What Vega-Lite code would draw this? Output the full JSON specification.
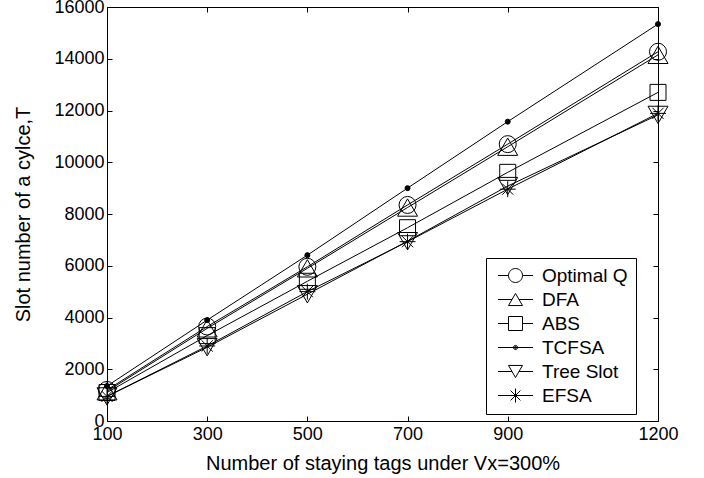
{
  "$schema": "https://vega.github.io/schema/vega-lite/v6.json",
  "width": 551,
  "height": 414,
  "autosize": {"type": "none"},
  "padding": {"left": 107, "top": 7, "right": 46, "bottom": 57},
  "background": "white",
  "config": {
    "view": {"stroke": null},
    "font": "Liberation Sans",
    "axis": {
      "domainColor": "black",
      "tickColor": "black",
      "labelColor": "black",
      "titleColor": "black",
      "grid": false,
      "tickSize": -5,
      "domainWidth": 1,
      "tickWidth": 1,
      "labelFontSize": 18,
      "titleFontSize": 20,
      "titleFontWeight": "normal",
      "labelFont": "Liberation Sans",
      "titleFont": "Liberation Sans"
    }
  },
  "data": {
    "values": [
      {"n": 100, "series": "Optimal Q", "slots": 1200},
      {"n": 300, "series": "Optimal Q", "slots": 3650},
      {"n": 500, "series": "Optimal Q", "slots": 5960},
      {"n": 700, "series": "Optimal Q", "slots": 8350},
      {"n": 900, "series": "Optimal Q", "slots": 10700},
      {"n": 1200, "series": "Optimal Q", "slots": 14270},
      {"n": 100, "series": "DFA", "slots": 1150},
      {"n": 300, "series": "DFA", "slots": 3580},
      {"n": 500, "series": "DFA", "slots": 5900},
      {"n": 700, "series": "DFA", "slots": 8250},
      {"n": 900, "series": "DFA", "slots": 10600},
      {"n": 1200, "series": "DFA", "slots": 14150},
      {"n": 100, "series": "ABS", "slots": 1100},
      {"n": 300, "series": "ABS", "slots": 3300},
      {"n": 500, "series": "ABS", "slots": 5400},
      {"n": 700, "series": "ABS", "slots": 7470},
      {"n": 900, "series": "ABS", "slots": 9610},
      {"n": 1200, "series": "ABS", "slots": 12700},
      {"n": 100, "series": "TCFSA", "slots": 1350},
      {"n": 300, "series": "TCFSA", "slots": 3900},
      {"n": 500, "series": "TCFSA", "slots": 6410},
      {"n": 700, "series": "TCFSA", "slots": 9000},
      {"n": 900, "series": "TCFSA", "slots": 11570},
      {"n": 1200, "series": "TCFSA", "slots": 15340},
      {"n": 100, "series": "Tree Slot", "slots": 950},
      {"n": 300, "series": "Tree Slot", "slots": 2850},
      {"n": 500, "series": "Tree Slot", "slots": 4900},
      {"n": 700, "series": "Tree Slot", "slots": 6950},
      {"n": 900, "series": "Tree Slot", "slots": 9080},
      {"n": 1200, "series": "Tree Slot", "slots": 11830},
      {"n": 100, "series": "EFSA", "slots": 950},
      {"n": 300, "series": "EFSA", "slots": 2900},
      {"n": 500, "series": "EFSA", "slots": 5000},
      {"n": 700, "series": "EFSA", "slots": 6930},
      {"n": 900, "series": "EFSA", "slots": 8960},
      {"n": 1200, "series": "EFSA", "slots": 11890}
    ]
  },
  "layer": [
    {
      "mark": {"type": "line", "color": "black", "strokeWidth": 1},
      "encoding": {
        "x": {
          "field": "n", "type": "quantitative",
          "scale": {"domain": [100, 1200], "nice": false, "zero": false},
          "axis": {"orient": "bottom", "values": [100, 300, 500, 700, 900, 1200], "format": "d", "title": "Number of staying tags under Vx=300%", "labelPadding": 9, "titlePadding": 10, "labelFlush": false}
        },
        "y": {
          "field": "slots", "type": "quantitative",
          "scale": {"domain": [0, 16000], "nice": false},
          "axis": {"orient": "left", "values": [0, 2000, 4000, 6000, 8000, 10000, 12000, 14000, 16000], "format": "d", "title": "Slot number of a cylce,T", "labelPadding": 8, "titlePadding": 20, "labelFlush": false}
        },
        "detail": {"field": "series"}
      }
    },
    {
      "mark": {"type": "point", "filled": false, "strokeWidth": 1, "opacity": 1, "color": "black"},
      "encoding": {
        "x": {
          "field": "n", "type": "quantitative",
          "scale": {"domain": [100, 1200], "nice": false, "zero": false},
          "axis": {"orient": "top", "values": [100, 300, 500, 700, 900, 1200], "labels": false, "title": null}
        },
        "y": {
          "field": "slots", "type": "quantitative",
          "scale": {"domain": [0, 16000], "nice": false},
          "axis": {"orient": "right", "values": [0, 2000, 4000, 6000, 8000, 10000, 12000, 14000, 16000], "labels": false, "title": null}
        },
        "shape": {
          "field": "series", "type": "nominal",
          "scale": {
            "domain": ["Optimal Q", "DFA", "ABS", "TCFSA", "Tree Slot", "EFSA"],
            "range": ["circle", "triangle-up", "square", "circle", "triangle-down", "M-1,0L1,0M0,-1L0,1M-0.7,-0.7L0.7,0.7M-0.7,0.7L0.7,-0.7"]
          },
          "legend": null
        },
        "size": {
          "condition": [
            {"test": "datum.series === 'TCFSA'", "value": 25},
            {"test": "datum.series === 'DFA' || datum.series === 'Tree Slot'", "value": 400},
            {"test": "datum.series === 'Optimal Q'", "value": 289}
          ],
          "value": 256
        },
        "fill": {
          "condition": {"test": "datum.series === 'TCFSA'", "value": "black"},
          "value": "transparent"
        }
      }
    },
    {
      "mark": {"type": "point", "filled": false, "strokeWidth": 1, "opacity": 0, "color": "black"},
      "encoding": {
        "x": {"field": "n", "type": "quantitative", "axis": null},
        "y": {"field": "slots", "type": "quantitative", "axis": null},
        "shape": {
          "field": "series", "type": "nominal",
          "scale": {
            "domain": ["Optimal Q", "DFA", "ABS", "TCFSA", "Tree Slot", "EFSA"],
            "range": [
              "M-2.5,0L-1,0M1,0L2.5,0M-1,0A1,1,0,1,0,1,0A1,1,0,1,0,-1,0Z",
              "M-2.5,0L-0.5,0M0.5,0L2.5,0M0,-0.866L1,0.866L-1,0.866Z",
              "M-2.5,0L-1,0M1,0L2.5,0M-1,-1L1,-1L1,1L-1,1Z",
              "M-2.5,0L2.5,0M-0.3,0A0.3,0.3,0,1,0,0.3,0A0.3,0.3,0,1,0,-0.3,0ZM-0.16,0A0.16,0.16,0,1,0,0.16,0A0.16,0.16,0,1,0,-0.16,0Z",
              "M-2.5,0L-0.5,0M0.5,0L2.5,0M-1,-0.866L1,-0.866L0,0.866Z",
              "M-2.5,0L2.5,0M0,-1L0,1M-0.7,-0.7L0.7,0.7M-0.7,0.7L0.7,-0.7"
            ]
          },
          "legend": {
            "title": null,
            "orient": "none",
            "legendX": 379,
            "legendY": 251,
            "strokeColor": "black",
            "fillColor": "white",
            "padding": 8,
            "cornerRadius": 0,
            "labelFontSize": 19,
            "labelFont": "Liberation Sans",
            "labelColor": "black",
            "symbolOffset": 12,
            "labelOffset": 17,
            "rowPadding": 4,
            "symbolSize": 196,
            "symbolStrokeWidth": 1,
            "symbolOpacity": 1,
            "symbolStrokeColor": "black",
            "symbolFillColor": "transparent"
          }
        }
      }
    }
  ],
  "resolve": {"axis": {"x": "independent", "y": "independent"}, "scale": {"shape": "independent"}}
}
